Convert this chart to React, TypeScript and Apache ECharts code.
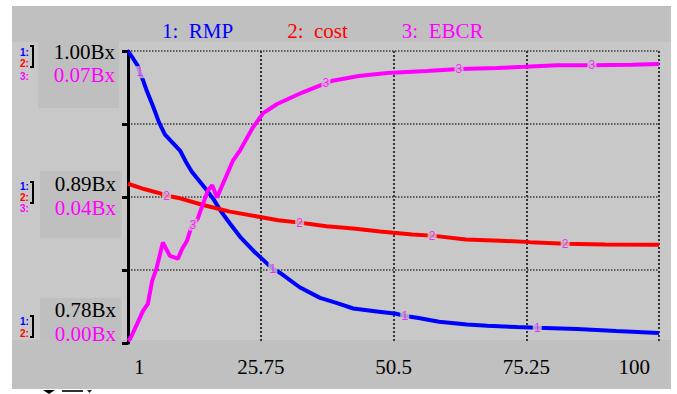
import React, { useEffect, useRef } from 'react';
import * as echarts from 'echarts';

// ---- data (time axis 1..100) ----
const rmpTime = [1, 2, 2.8, 3.2, 3.8, 4.5, 5.7, 6.8, 7.9, 9.3, 10.7, 12, 12.9, 14.3, 15.7, 17, 18.2, 20, 21.9, 24.5, 26.9, 28, 29.3, 33, 36.8, 40, 43, 47, 51, 52.6, 54.9, 59, 64.2, 68, 73.5, 77.3, 84.7, 92, 100];
const rmpValues = [1.0, 0.994, 0.989, 0.984, 0.978, 0.97, 0.958, 0.946, 0.937, 0.931, 0.925, 0.915, 0.909, 0.902, 0.895, 0.888, 0.88, 0.87, 0.86, 0.849, 0.84, 0.836, 0.833, 0.822, 0.814, 0.81, 0.806, 0.804, 0.802, 0.8004, 0.799, 0.796, 0.794, 0.793, 0.792, 0.7914, 0.7906, 0.789, 0.7876];

const costTime = [1, 4, 7, 8.2, 10.7, 15, 20, 25.6, 29, 33, 38, 43, 48, 54, 57.7, 64, 70.4, 76, 82.5, 90, 100];
const costValues = [0.9, 0.896, 0.8927, 0.891, 0.889, 0.884, 0.879, 0.875, 0.8725, 0.8707, 0.868, 0.8662, 0.864, 0.8617, 0.8609, 0.858, 0.8571, 0.856, 0.8548, 0.8542, 0.8541];

const ebcrTime = [1, 1.4, 2.7, 3.8, 4.7, 5.5, 6.3, 7.5, 8.8, 10.3, 11.1, 12, 12.7, 13.1, 14, 15.9, 16.7, 17.6, 20.6, 21.9, 24.3, 26.2, 28.8, 33.6, 37.9, 38.9, 44, 49.3, 56.7, 62.7, 69.8, 75, 81, 87.5, 95, 100];
const ebcrValues = [0.0005, 0.001, 0.0046, 0.0077, 0.0094, 0.0149, 0.0178, 0.0241, 0.0209, 0.0202, 0.0226, 0.0245, 0.0274, 0.0284, 0.0298, 0.0366, 0.0378, 0.0349, 0.0438, 0.0462, 0.0517, 0.0551, 0.0573, 0.0601, 0.0623, 0.0628, 0.064, 0.0647, 0.0652, 0.0657, 0.0659, 0.0662, 0.0666, 0.0666, 0.0667, 0.0669];

// times where the curve number markers sit
const rmpMarkerTimes = [3.2, 28, 52.6, 77.3];
const costMarkerTimes = [8.2, 33, 57.7, 82.5];
const ebcrMarkerTimes = [13.1, 37.9, 62.7, 87.5];

const seriesNames = ['RMP', 'cost', 'EBCR'];
const timeStart = 1;
const timeEnd = 100;
const timeInterval = 24.75;

// left scale labels (top, middle, bottom)
const sharedScaleLabels = ['1.00Bx', '0.89Bx', '0.78Bx'];
const ebcrScaleLabels = ['0.07Bx', '0.04Bx', '0.00Bx'];
const sharedMin = 0.78;
const sharedMax = 1.0;
const ebcrMin = 0;
const ebcrMax = 0.07;

const SERIF = '"Liberation Serif", "Times New Roman", serif';
const SANS = '"Liberation Sans", Arial, sans-serif';
const BLUE = '#0000ff';
const RED = '#ff0000';
const MAGENTA = '#ff00ff';
const COLORS = [BLUE, RED, MAGENTA];

function pairs(t: number[], v: number[]) {
  return t.map((x, i) => [x - timeStart, v[i]]);
}
function markerPoints(t: number[], v: number[], marks: number[]) {
  return marks.map((m) => {
    const i = t.indexOf(m);
    return [m - timeStart, v[i]];
  });
}

export default function App() {
  const ref = useRef<HTMLDivElement>(null);
  useEffect(() => {
    const chart = echarts.init(ref.current!, null, { renderer: 'svg' });

    const bg = (x: number, y: number, w: number, h: number, fill: string, z = -10) => ({
      type: 'rect', z, silent: true, shape: { x, y, width: w, height: h }, style: { fill },
    });
    const txt = (text: string, x: number, y: number, font: string, fill: string, align = 'right') => ({
      type: 'text', z: 20, silent: true, x, y,
      style: { text, font, fill, align, verticalAlign: 'middle' },
    });
    const bracket = (y1: number, y2: number) => ({
      type: 'polyline', z: 20, silent: true,
      shape: { points: [[30, y1], [33, y1], [33, y2], [30, y2]] },
      style: { stroke: '#000', lineWidth: 2, fill: 'none' },
    });

    const labelFont = `21px ${SERIF}`;
    const smallFont = `bold 10px ${SANS}`;

    const graphics: any[] = [
      bg(12, 6, 659, 383, '#c0c0c0', -20),
      bg(12, 42, 659, 298, '#c8c8c8', -15),
      bg(38, 42, 81, 66, '#bfbfbf'),
      bg(40, 171, 81, 67, '#bfbfbf'),
      bg(40, 298, 81, 42, '#bfbfbf'),
      bg(12, 340, 657, 49, '#c0c0c0'),
      bg(39, 389, 69, 5, '#ffffff'),
      { type: 'polygon', z: 20, silent: true, shape: { points: [[43, 390], [55, 390], [49, 394]] }, style: { fill: '#000' } },
      { type: 'rect', z: 20, silent: true, shape: { x: 62, y: 390, width: 21, height: 2 }, style: { fill: '#333' } },
      { type: 'polygon', z: 20, silent: true, shape: { points: [[87, 390], [92, 390], [89.5, 393]] }, style: { fill: '#222' } },
      // scale labels
      txt(sharedScaleLabels[0], 115, 52, labelFont, '#000'),
      txt(ebcrScaleLabels[0], 115, 75, labelFont, MAGENTA),
      txt(sharedScaleLabels[1], 116, 184, labelFont, '#000'),
      txt(ebcrScaleLabels[1], 116, 208, labelFont, MAGENTA),
      txt(sharedScaleLabels[2], 116, 310, labelFont, '#000'),
      txt(ebcrScaleLabels[2], 116, 334, labelFont, MAGENTA),
      // series index markers
      txt('1:', 20, 52, smallFont, BLUE, 'left'),
      txt('2:', 20, 63, smallFont, RED, 'left'),
      txt('3:', 20, 76, smallFont, MAGENTA, 'left'),
      bracket(46, 67),
      txt('1:', 20, 186, smallFont, BLUE, 'left'),
      txt('2:', 20, 197, smallFont, RED, 'left'),
      txt('3:', 20, 208, smallFont, MAGENTA, 'left'),
      bracket(182, 203),
      txt('1:', 20, 321, smallFont, BLUE, 'left'),
      txt('2:', 20, 333, smallFont, RED, 'left'),
      bracket(316, 337),
    ];

    const lineSeries = (name: string, t: number[], v: number[], color: string, yAxisIndex: number) => ({
      type: 'line', name, yAxisIndex, data: pairs(t, v), showSymbol: false, symbol: 'none',
      lineStyle: { color, width: 4 }, itemStyle: { color }, z: 3, silent: true,
    });
    const markerSeries = (num: string, t: number[], v: number[], marks: number[], yAxisIndex: number) => ({
      type: 'scatter', name: 'marker' + num, yAxisIndex, data: markerPoints(t, v, marks),
      symbol: 'rect', symbolSize: [9, 12], itemStyle: { color: '#c8c8c8' }, z: 5, silent: true,
      label: { show: true, position: 'inside', formatter: num, color: MAGENTA, fontSize: 12, fontFamily: SANS },
    });

    const option: any = {
      animation: false,
      backgroundColor: '#ffffff',
      grid: { left: 128, right: 18, top: 51, bottom: 51, containLabel: false },
      legend: {
        left: 152, top: 15, itemGap: 49, itemWidth: 0, itemHeight: 0, icon: 'none', selectedMode: false,
        formatter: (name: string) => `${seriesNames.indexOf(name) + 1}:\u00a0\u00a0${name}`,
        textStyle: { fontFamily: SERIF, fontSize: 21 },
        data: seriesNames.map((n, i) => ({ name: n, textStyle: { color: COLORS[i] } })),
      },
      xAxis: {
        type: 'value', min: 0, max: timeEnd - timeStart, interval: timeInterval,
        axisLine: { show: false }, axisTick: { show: false },
        splitLine: { show: true, lineStyle: { color: '#333', type: 'dotted', width: 2 } },
        axisLabel: {
          margin: 13, color: '#000', fontFamily: SERIF, fontSize: 21,
          showMinLabel: true, showMaxLabel: true, alignMinLabel: 'left', alignMaxLabel: 'right',
          formatter: (v: number) => {
            const lab = String(+(v + timeStart).toFixed(2));
            if (v === 0) return `{f|${lab}}`;
            if (v === timeEnd - timeStart) return `{l|${lab}}`;
            return lab;
          },
          rich: {
            f: { padding: [0, 0, 0, 6], fontFamily: SERIF, fontSize: 21, color: '#000' },
            l: { padding: [0, 9, 0, 0], fontFamily: SERIF, fontSize: 21, color: '#000' },
          },
        },
      },
      yAxis: [
        {
          type: 'value', min: ebcrMin, max: ebcrMax, interval: 0.0175, position: 'left',
          axisLine: { show: true, lineStyle: { color: '#000', width: 3 } },
          axisTick: { show: true, length: 6, lineStyle: { color: '#000', width: 3 } },
          axisLabel: { show: false },
          splitLine: { show: true, showMinLine: false, lineStyle: { color: '#3a3a3a', type: 'dotted', width: 1.5 } },
        },
        {
          type: 'value', min: sharedMin, max: sharedMax, show: false, splitLine: { show: false },
        },
      ],
      graphic: { elements: graphics },
      series: [
        lineSeries(seriesNames[0], rmpTime, rmpValues, BLUE, 1),
        lineSeries(seriesNames[1], costTime, costValues, RED, 1),
        lineSeries(seriesNames[2], ebcrTime, ebcrValues, MAGENTA, 0),
        markerSeries('1', rmpTime, rmpValues, rmpMarkerTimes, 1),
        markerSeries('2', costTime, costValues, costMarkerTimes, 1),
        markerSeries('3', ebcrTime, ebcrValues, ebcrMarkerTimes, 0),
      ],
    };
    chart.setOption(option);
    return () => chart.dispose();
  }, []);
  return (
    <div
      ref={ref}
      style={{ position: 'absolute', left: 0, top: 0, width: 677, height: 394, background: '#fff' }}
    />
  );
}
